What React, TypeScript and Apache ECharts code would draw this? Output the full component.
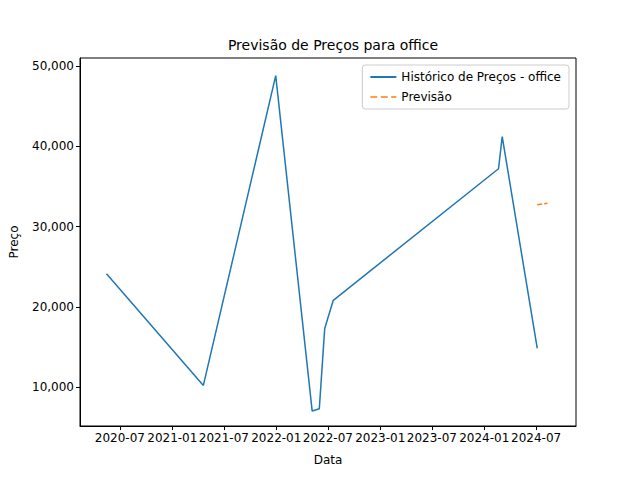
import React, { useEffect, useRef } from 'react';
import * as echarts from 'echarts';

const histDates = ['2020-05-15', '2021-04-20', '2021-12-30', '2022-05-07', '2022-06-01', '2022-06-20', '2022-07-20', '2024-02-20', '2024-03-04', '2024-07-05'];
const histValues = [24100, 10200, 48800, 7000, 7300, 17300, 20800, 37200, 41200, 14800];
const forecastDates = ['2024-07-05', '2024-08-10'];
const forecastValues = [32700, 32900];
const tickDates = ['2020-07-01', '2021-01-01', '2021-07-01', '2022-01-01', '2022-07-01', '2023-01-01', '2023-07-01', '2024-01-01', '2024-07-01'];
const yTicks = [10000, 20000, 30000, 40000, 50000];

const ts = (d: string) => Date.parse(d + 'T00:00:00Z');
const font = 'DejaVu Sans';

const App: React.FC = () => {
  const chartRef = useRef<HTMLDivElement>(null);

  useEffect(() => {
    if (!chartRef.current) return;
    const chart = echarts.init(chartRef.current, undefined, { renderer: 'svg' });
    const ticks = tickDates.map(ts);
    chart.setOption({
      animation: false,
      textStyle: { fontFamily: font },
      title: {
        text: 'Previsão de Preços para office',
        left: 328, top: 33, textAlign: 'center',
        textStyle: { fontFamily: font, fontSize: 14, fontWeight: 'normal', color: '#000' },
      },
      legend: {
        right: 71, top: 65, orient: 'vertical',
        borderColor: '#ccc', borderWidth: 1, borderRadius: 3, padding: [6, 8],
        itemWidth: 26, itemHeight: 2, itemGap: 8,
        textStyle: { fontFamily: font, fontSize: 12, color: '#000' },
        data: [
          { name: 'Histórico de Preços - office', icon: 'rect' },
          { name: 'Previsão', icon: 'path://M0,0h8v2h-8zM12,0h8v2h-8zM24,0h6v2h-6z' },
        ],
      },
      grid: { left: 80, right: 64, top: 58, bottom: 54, show: true, borderColor: '#000', borderWidth: 1 },
      xAxis: {
        type: 'value',
        min: ts('2020-02-12'), max: ts('2024-11-18'),
        name: 'Data', nameLocation: 'middle', nameGap: 28,
        nameTextStyle: { fontFamily: font, fontSize: 12, color: '#000' },
        axisLine: { show: true, lineStyle: { color: '#000' } },
        axisTick: { show: true, customValues: ticks, length: 4, lineStyle: { color: '#000' } },
        axisLabel: {
          customValues: ticks, color: '#000', fontSize: 12, fontFamily: font, margin: 6,
          formatter: (v: number) => {
            const d = new Date(v);
            return `${d.getUTCFullYear()}-${String(d.getUTCMonth() + 1).padStart(2, '0')}`;
          },
        },
        splitLine: { show: false },
      },
      yAxis: {
        type: 'value', min: 5140, max: 51000,
        name: 'Preço', nameLocation: 'middle', nameGap: 60,
        nameTextStyle: { fontFamily: font, fontSize: 12, color: '#000' },
        axisLine: { show: true, lineStyle: { color: '#000' } },
        axisTick: { show: true, customValues: yTicks, length: 4, lineStyle: { color: '#000' } },
        axisLabel: { customValues: yTicks, color: '#000', fontSize: 12, fontFamily: font, margin: 6 },
        splitLine: { show: false },
      },
      series: [
        {
          name: 'Histórico de Preços - office', type: 'line', showSymbol: false,
          lineStyle: { color: '#1f77b4', width: 1.5 }, itemStyle: { color: '#1f77b4' },
          data: histDates.map((d, i) => [ts(d), histValues[i]]),
        },
        {
          name: 'Previsão', type: 'line', showSymbol: false,
          lineStyle: { color: '#ff7f0e', width: 1.5, type: [5, 2] }, itemStyle: { color: '#ff7f0e' },
          data: forecastDates.map((d, i) => [ts(d), forecastValues[i]]),
        },
      ],
    });
    return () => chart.dispose();
  }, []);

  return <div ref={chartRef} style={{ width: 640, height: 480, margin: -8 }} />;
};

export default App;
